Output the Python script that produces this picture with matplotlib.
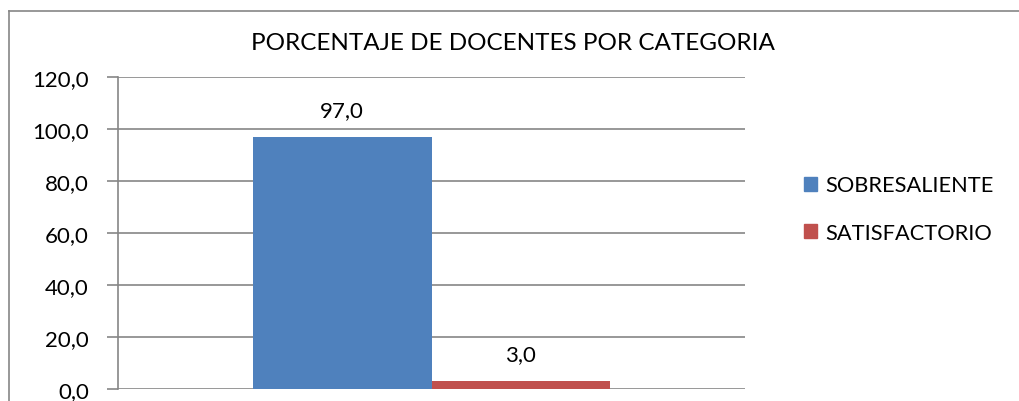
import matplotlib
matplotlib.use("Agg")
from matplotlib import pyplot as plt
from matplotlib.lines import Line2D
from matplotlib.patches import Patch

series = ["SOBRESALIENTE", "SATISFACTORIO"]
values = [97.0, 3.0]
colors = ["#4F81BD", "#C0504D"]
yticks = [0, 20, 40, 60, 80, 100, 120]

plt.rcParams['font.family'] = ['Lato', 'DejaVu Sans']

W, H = 1019, 402
fig = plt.figure(figsize=(W / 100, H / 100), dpi=100)
ax = fig.add_axes([118 / W, 12 / H, 627 / W, 312 / H])

# two bars side by side in one category slot
width = 0.285
xs = [-width / 2, width / 2]
bars = ax.bar(xs, values, width=width, color=colors, zorder=3)
for x, v in zip(xs, values):
    ax.text(x, v + 6.5, f"{v:.1f}".replace(".", ","), ha="center", va="bottom",
            fontsize=16, color="black")

ax.set_xlim(-0.5, 0.5)
ax.set_ylim(0, 120)
ax.set_yticks(yticks)
ax.set_yticklabels([f"{t:.1f}".replace(".", ",") for t in yticks], fontsize=16)
ax.set_xticks([])
ax.yaxis.grid(True, color="#868686", linewidth=1.2, zorder=0)
ax.tick_params(axis="y", length=8, width=1.2, color="#868686", pad=13)
for s in ["top", "right", "bottom"]:
    ax.spines[s].set_visible(False)
ax.spines["left"].set_color("#868686")
ax.spines["left"].set_linewidth(1.2)

fig.text(513 / W, 1 - 43 / H, "PORCENTAJE DE DOCENTES POR CATEGORIA",
         ha="center", va="center", fontsize=17.5)

handles = [Patch(color=c) for c in colors]
fig.legend(handles, series, loc="center left", bbox_to_anchor=(784 / W, 1 - 210 / H),
           frameon=False, fontsize=15.7, handlelength=0.6, handleheight=0.6,
           handletextpad=0.4, labelspacing=1.25)

# chart frame (cropped on the right and bottom)
fig.add_artist(Line2D([9 / W, 1], [1 - 12 / H, 1 - 12 / H], transform=fig.transFigure,
                      color="#868686", linewidth=1.2))
fig.add_artist(Line2D([9 / W, 9 / W], [0, 1 - 12 / H], transform=fig.transFigure,
                      color="#868686", linewidth=1.2))

fig.savefig("out.png", dpi=100)
